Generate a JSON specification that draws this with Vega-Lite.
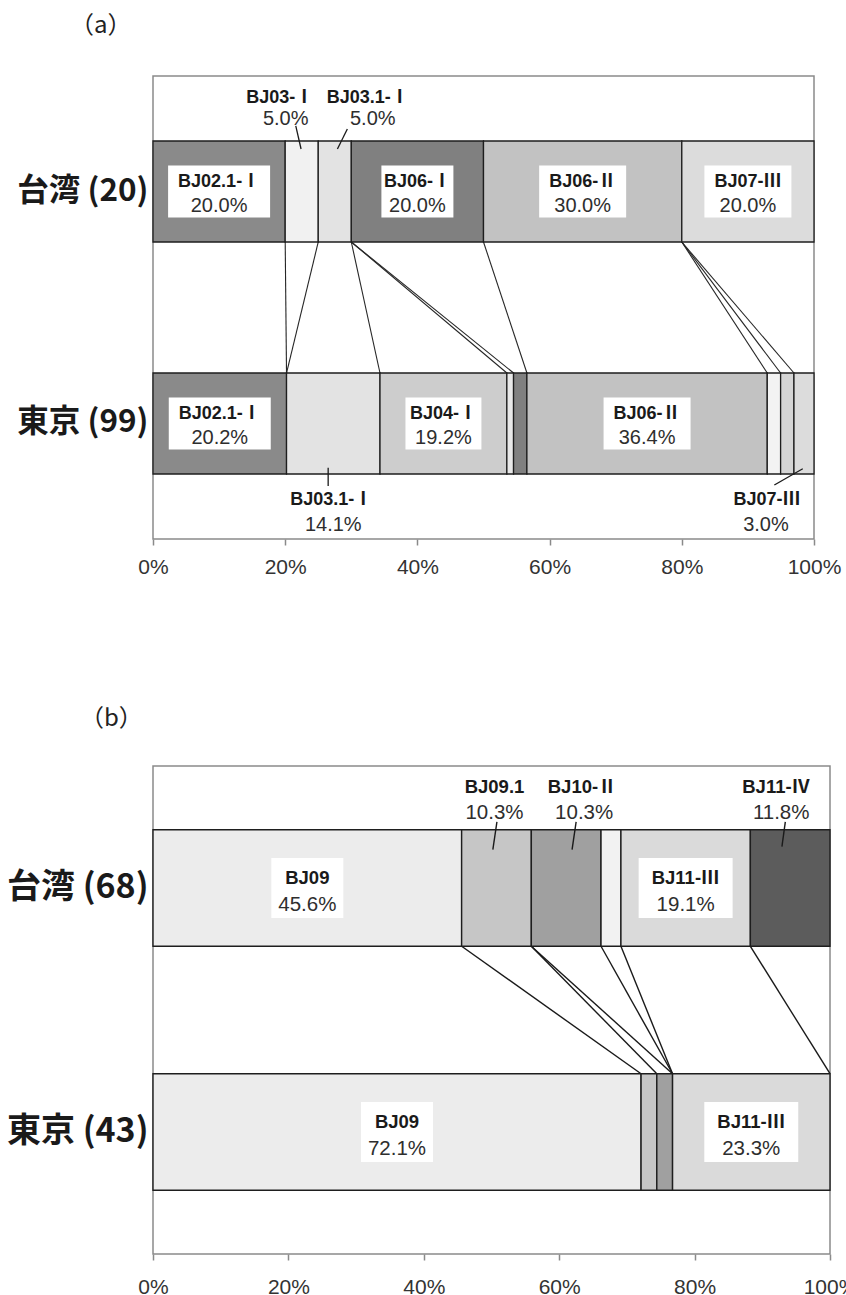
{
  "$schema": "https://vega.github.io/schema/vega-lite/v6.json",
  "padding": {"left": 5, "top": 13, "right": 0, "bottom": 0},
  "autosize": {"type": "pad"},
  "background": "white",
  "config": {
    "font": "Liberation Sans, Noto Sans CJK JP",
    "view": {"stroke": "#8a8a8a", "strokeWidth": 1.5},
    "axis": {"grid": false}
  },
  "datasets": {
    "segA": [
      {"region": "台湾 (20)", "ord": 1, "name": "BJ02.1-Ⅰ", "n": 4, "pct": "20.0%", "lab": "in"},
      {"region": "台湾 (20)", "ord": 2, "name": "BJ03-Ⅰ", "n": 1, "pct": "5.0%", "lab": "up"},
      {"region": "台湾 (20)", "ord": 3, "name": "BJ03.1-Ⅰ", "n": 1, "pct": "5.0%", "lab": "up"},
      {"region": "台湾 (20)", "ord": 4, "name": "BJ06-Ⅰ", "n": 4, "pct": "20.0%", "lab": "in"},
      {"region": "台湾 (20)", "ord": 5, "name": "BJ06-Ⅱ", "n": 6, "pct": "30.0%", "lab": "in"},
      {"region": "台湾 (20)", "ord": 6, "name": "BJ07-Ⅲ", "n": 4, "pct": "20.0%", "lab": "in"},
      {"region": "東京 (99)", "ord": 1, "name": "BJ02.1-Ⅰ", "n": 20, "pct": "20.2%", "lab": "in"},
      {"region": "東京 (99)", "ord": 2, "name": "BJ03.1-Ⅰ", "n": 14, "pct": "14.1%", "lab": "down"},
      {"region": "東京 (99)", "ord": 3, "name": "BJ04-Ⅰ", "n": 19, "pct": "19.2%", "lab": "in"},
      {"region": "東京 (99)", "ord": 4, "name": "他1", "n": 1, "pct": "1.0%", "lab": ""},
      {"region": "東京 (99)", "ord": 5, "name": "BJ06-Ⅰ", "n": 2, "pct": "2.0%", "lab": ""},
      {"region": "東京 (99)", "ord": 6, "name": "BJ06-Ⅱ", "n": 36, "pct": "36.4%", "lab": "in"},
      {"region": "東京 (99)", "ord": 7, "name": "他2", "n": 2, "pct": "2.0%", "lab": ""},
      {"region": "東京 (99)", "ord": 8, "name": "他3", "n": 2, "pct": "2.0%", "lab": ""},
      {"region": "東京 (99)", "ord": 9, "name": "BJ07-Ⅲ", "n": 3, "pct": "3.0%", "lab": "down"}
    ],
    "segB": [
      {"region": "台湾 (68)", "ord": 1, "name": "BJ09", "n": 31, "pct": "45.6%", "lab": "in"},
      {"region": "台湾 (68)", "ord": 2, "name": "BJ09.1", "n": 7, "pct": "10.3%", "lab": "up"},
      {"region": "台湾 (68)", "ord": 3, "name": "BJ10-Ⅱ", "n": 7, "pct": "10.3%", "lab": "up"},
      {"region": "台湾 (68)", "ord": 4, "name": "他4", "n": 2, "pct": "2.9%", "lab": ""},
      {"region": "台湾 (68)", "ord": 5, "name": "BJ11-Ⅲ", "n": 13, "pct": "19.1%", "lab": "in"},
      {"region": "台湾 (68)", "ord": 6, "name": "BJ11-Ⅳ", "n": 8, "pct": "11.8%", "lab": "up"},
      {"region": "東京 (43)", "ord": 1, "name": "BJ09", "n": 31, "pct": "72.1%", "lab": "in"},
      {"region": "東京 (43)", "ord": 2, "name": "BJ09.1", "n": 1, "pct": "2.3%", "lab": ""},
      {"region": "東京 (43)", "ord": 3, "name": "BJ10-Ⅱ", "n": 1, "pct": "2.3%", "lab": ""},
      {"region": "東京 (43)", "ord": 4, "name": "BJ11-Ⅲ", "n": 10, "pct": "23.3%", "lab": "in"}
    ],
    "linkA": [
      {"from": 0.20, "to": 0.2020},
      {"from": 0.25, "to": 0.2020},
      {"from": 0.30, "to": 0.3434},
      {"from": 0.30, "to": 0.5354},
      {"from": 0.30, "to": 0.5455},
      {"from": 0.50, "to": 0.5657},
      {"from": 0.80, "to": 0.9293},
      {"from": 0.80, "to": 0.9495},
      {"from": 0.80, "to": 0.9697}
    ],
    "linkB": [
      {"from": 0.4559, "to": 0.7209},
      {"from": 0.5588, "to": 0.7442},
      {"from": 0.5588, "to": 0.7674},
      {"from": 0.6618, "to": 0.7674},
      {"from": 0.6912, "to": 0.7674},
      {"from": 0.8824, "to": 1.0}
    ]
  },
  "columns": 1,
  "spacing": 128,
  "resolve": {"scale": {"color": "independent", "shape": "independent"}},
  "concat": [
    {
      "title": {"text": "（a）", "anchor": "start", "frame": "group", "dx": -83, "offset": 38, "fontSize": 24, "fontWeight": "normal", "font": "Noto Sans CJK JP", "color": "#222222"},
      "width": 661,
      "height": 463,
      "data": {"name": "segA"},
      "layer": [
        {
          "data": {"name": "linkA"},
          "mark": {"type": "rule", "color": "#262626", "strokeWidth": 1.1},
          "encoding": {
            "x": {"field": "from", "type": "quantitative"},
            "x2": {"field": "to"},
            "y": {"datum": "台湾 (20)", "type": "nominal", "bandPosition": 1},
            "y2": {"datum": "東京 (99)", "bandPosition": 0}
          }
        },
        {
          "mark": {"type": "bar", "stroke": "#1e1e1e", "strokeWidth": 1.3},
          "encoding": {
            "y": {"field": "region", "type": "nominal", "scale": {"domain": ["台湾 (20)", "東京 (99)"], "paddingInner": 0.5647, "paddingOuter": 0.2802},
                  "axis": {"title": null, "ticks": false, "domain": false, "labelFont": "Noto Sans CJK JP", "labelFontSize": 31.5, "labelFontWeight": "bold", "labelColor": "#1a1a1a", "labelPadding": 5}},
            "x": {"field": "n", "type": "quantitative", "stack": "normalize", "scale": {"domain": [0, 1], "nice": false},
                  "axis": {"title": null, "values": [0, 0.2, 0.4, 0.6, 0.8, 1], "format": ".0%", "labelFlush": false, "labelOverlap": false, "labelFontSize": 21, "labelColor": "#333333", "labelFont": "Liberation Sans", "tickColor": "#8a8a8a", "tickSize": 6, "tickWidth": 1.5, "domain": false, "labelPadding": 11}},
            "color": {"field": "name", "type": "nominal", "legend": null,
                      "scale": {"domain": ["BJ02.1-Ⅰ", "BJ03-Ⅰ", "BJ03.1-Ⅰ", "BJ04-Ⅰ", "他1", "BJ06-Ⅰ", "BJ06-Ⅱ", "他2", "他3", "BJ07-Ⅲ"],
                                "range": ["#8a8a8a", "#f1f1f1", "#e3e3e3", "#cdcdcd", "#e8e8e8", "#808080", "#c2c2c2", "#f3f3f3", "#d5d5d5", "#dcdcdc"]}},
            "order": {"field": "ord", "type": "quantitative"}
          }
        },
        {
          "mark": {"type": "point", "filled": true, "fill": "white", "strokeWidth": 0, "size": 14400},
          "encoding": {
            "x": {"field": "n", "type": "quantitative", "stack": "normalize", "bandPosition": 0.5},
            "y": {"field": "region", "type": "nominal"},
            "detail": {"field": "name", "type": "nominal"},
            "order": {"field": "ord", "type": "quantitative"},
            "shape": {"field": "name", "type": "nominal", "legend": null,
                      "scale": {"domain": ["BJ02.1-Ⅰ", "BJ04-Ⅰ", "BJ06-Ⅰ", "BJ06-Ⅱ", "BJ07-Ⅲ", "BJ03-Ⅰ", "BJ03.1-Ⅰ", "他1", "他2", "他3"],
                                "range": ["M-0.85,-0.433L0.85,-0.433L0.85,0.433L-0.85,0.433Z", "M-0.633,-0.433L0.633,-0.433L0.633,0.433L-0.633,0.433Z", "M-0.6,-0.433L0.6,-0.433L0.6,0.433L-0.6,0.433Z", "M-0.725,-0.433L0.725,-0.433L0.725,0.433L-0.725,0.433Z", "M-0.725,-0.433L0.725,-0.433L0.725,0.433L-0.725,0.433Z", "M-0.1,-0.1L0.1,-0.1L0.1,0.1L-0.1,0.1Z", "M-0.1,-0.1L0.1,-0.1L0.1,0.1L-0.1,0.1Z", "M-0.1,-0.1L0.1,-0.1L0.1,0.1L-0.1,0.1Z", "M-0.1,-0.1L0.1,-0.1L0.1,0.1L-0.1,0.1Z", "M-0.1,-0.1L0.1,-0.1L0.1,0.1L-0.1,0.1Z"]}},
            "opacity": {"condition": {"test": "datum.lab === 'in'", "value": 1}, "value": 0}
          }
        },
        {
          "mark": {"type": "text", "fontWeight": "bold", "fontSize": 18, "baseline": "alphabetic", "dy": -4.5, "color": "#1a1a1a"},
          "encoding": {
            "x": {"field": "n", "type": "quantitative", "stack": "normalize", "bandPosition": 0.5},
            "y": {"field": "region", "type": "nominal"},
            "detail": {"field": "name", "type": "nominal"},
            "order": {"field": "ord", "type": "quantitative"},
            "text": {"condition": {"test": "datum.lab === 'in'", "field": "name", "type": "nominal"}, "value": ""}
          }
        },
        {
          "mark": {"type": "text", "fontSize": 20, "baseline": "alphabetic", "dy": 20.5, "color": "#2e2e2e"},
          "encoding": {
            "x": {"field": "n", "type": "quantitative", "stack": "normalize", "bandPosition": 0.5},
            "y": {"field": "region", "type": "nominal"},
            "detail": {"field": "name", "type": "nominal"},
            "order": {"field": "ord", "type": "quantitative"},
            "text": {"condition": {"test": "datum.lab === 'in'", "field": "pct", "type": "nominal"}, "value": ""}
          }
        },
        {
          "mark": {"type": "text", "fontWeight": "bold", "fontSize": 18, "baseline": "alphabetic", "dx": -22, "dy": -89, "color": "#1a1a1a"},
          "encoding": {
            "x": {"field": "n", "type": "quantitative", "stack": "normalize", "bandPosition": 0.5},
            "y": {"field": "region", "type": "nominal"},
            "detail": {"field": "name", "type": "nominal"},
            "order": {"field": "ord", "type": "quantitative"},
            "text": {"condition": {"test": "datum.lab === 'up' && datum.name === 'BJ03-Ⅰ'", "field": "name", "type": "nominal"}, "value": ""}
          }
        },
        {
          "mark": {"type": "text", "fontSize": 20, "baseline": "alphabetic", "dx": -16, "dy": -67, "color": "#2e2e2e"},
          "encoding": {
            "x": {"field": "n", "type": "quantitative", "stack": "normalize", "bandPosition": 0.5},
            "y": {"field": "region", "type": "nominal"},
            "detail": {"field": "name", "type": "nominal"},
            "order": {"field": "ord", "type": "quantitative"},
            "text": {"condition": {"test": "datum.lab === 'up' && datum.name === 'BJ03-Ⅰ'", "field": "pct", "type": "nominal"}, "value": ""}
          }
        },
        {
          "mark": {"type": "text", "fontWeight": "bold", "fontSize": 18, "baseline": "alphabetic", "dx": 33, "dy": -89, "color": "#1a1a1a"},
          "encoding": {
            "x": {"field": "n", "type": "quantitative", "stack": "normalize", "bandPosition": 0.5},
            "y": {"field": "region", "type": "nominal"},
            "detail": {"field": "name", "type": "nominal"},
            "order": {"field": "ord", "type": "quantitative"},
            "text": {"condition": {"test": "datum.lab === 'up' && datum.name === 'BJ03.1-Ⅰ'", "field": "name", "type": "nominal"}, "value": ""}
          }
        },
        {
          "mark": {"type": "text", "fontSize": 20, "baseline": "alphabetic", "dx": 38, "dy": -67, "color": "#2e2e2e"},
          "encoding": {
            "x": {"field": "n", "type": "quantitative", "stack": "normalize", "bandPosition": 0.5},
            "y": {"field": "region", "type": "nominal"},
            "detail": {"field": "name", "type": "nominal"},
            "order": {"field": "ord", "type": "quantitative"},
            "text": {"condition": {"test": "datum.lab === 'up' && datum.name === 'BJ03.1-Ⅰ'", "field": "pct", "type": "nominal"}, "value": ""}
          }
        },
        {
          "mark": {"type": "text", "fontWeight": "bold", "fontSize": 18, "baseline": "alphabetic", "dx": -2, "dy": 81.5, "color": "#1a1a1a"},
          "encoding": {
            "x": {"field": "n", "type": "quantitative", "stack": "normalize", "bandPosition": 0.5},
            "y": {"field": "region", "type": "nominal"},
            "detail": {"field": "name", "type": "nominal"},
            "order": {"field": "ord", "type": "quantitative"},
            "text": {"condition": {"test": "datum.lab === 'down' && datum.name === 'BJ03.1-Ⅰ'", "field": "name", "type": "nominal"}, "value": ""}
          }
        },
        {
          "mark": {"type": "text", "fontSize": 20, "baseline": "alphabetic", "dx": 0, "dy": 107.5, "color": "#2e2e2e"},
          "encoding": {
            "x": {"field": "n", "type": "quantitative", "stack": "normalize", "bandPosition": 0.5},
            "y": {"field": "region", "type": "nominal"},
            "detail": {"field": "name", "type": "nominal"},
            "order": {"field": "ord", "type": "quantitative"},
            "text": {"condition": {"test": "datum.lab === 'down' && datum.name === 'BJ03.1-Ⅰ'", "field": "pct", "type": "nominal"}, "value": ""}
          }
        },
        {
          "mark": {"type": "text", "fontWeight": "bold", "fontSize": 18, "baseline": "alphabetic", "dx": -37, "dy": 81.5, "color": "#1a1a1a"},
          "encoding": {
            "x": {"field": "n", "type": "quantitative", "stack": "normalize", "bandPosition": 0.5},
            "y": {"field": "region", "type": "nominal"},
            "detail": {"field": "name", "type": "nominal"},
            "order": {"field": "ord", "type": "quantitative"},
            "text": {"condition": {"test": "datum.lab === 'down' && datum.name === 'BJ07-Ⅲ'", "field": "name", "type": "nominal"}, "value": ""}
          }
        },
        {
          "mark": {"type": "text", "fontSize": 20, "baseline": "alphabetic", "dx": -38, "dy": 107.5, "color": "#2e2e2e"},
          "encoding": {
            "x": {"field": "n", "type": "quantitative", "stack": "normalize", "bandPosition": 0.5},
            "y": {"field": "region", "type": "nominal"},
            "detail": {"field": "name", "type": "nominal"},
            "order": {"field": "ord", "type": "quantitative"},
            "text": {"condition": {"test": "datum.lab === 'down' && datum.name === 'BJ07-Ⅲ'", "field": "pct", "type": "nominal"}, "value": ""}
          }
        },
        {
          "data": {"values": [{"leader": "BJ03-Ⅰ"}]},
          "mark": {"type": "rule", "color": "#1a1a1a", "strokeWidth": 1.3},
          "encoding": {
            "x": {"datum": 0.216, "type": "quantitative"}, "x2": {"datum": 0.224},
            "y": {"datum": "台湾 (20)", "type": "nominal", "bandPosition": -0.149}, "y2": {"datum": "台湾 (20)", "bandPosition": 0.079}
          }
        },
        {
          "data": {"values": [{"leader": "BJ03.1-Ⅰ"}]},
          "mark": {"type": "rule", "color": "#1a1a1a", "strokeWidth": 1.3},
          "encoding": {
            "x": {"datum": 0.294, "type": "quantitative"}, "x2": {"datum": 0.279},
            "y": {"datum": "台湾 (20)", "type": "nominal", "bandPosition": -0.119}, "y2": {"datum": "台湾 (20)", "bandPosition": 0.079}
          }
        },
        {
          "data": {"values": [{"leader": "BJ03.1-Ⅰ"}]},
          "mark": {"type": "rule", "color": "#1a1a1a", "strokeWidth": 1.3},
          "encoding": {
            "x": {"datum": 0.265, "type": "quantitative"}, "x2": {"datum": 0.265},
            "y": {"datum": "東京 (99)", "type": "nominal", "bandPosition": 0.938}, "y2": {"datum": "東京 (99)", "bandPosition": 1.119}
          }
        },
        {
          "data": {"values": [{"leader": "BJ07-Ⅲ"}]},
          "mark": {"type": "rule", "color": "#1a1a1a", "strokeWidth": 1.3},
          "encoding": {
            "x": {"datum": 0.940, "type": "quantitative"}, "x2": {"datum": 0.983},
            "y": {"datum": "東京 (99)", "type": "nominal", "bandPosition": 1.109}, "y2": {"datum": "東京 (99)", "bandPosition": 0.948}
          }
        }
      ]
    },
    {
      "title": {"text": "（b）", "anchor": "start", "frame": "group", "dx": -73, "offset": 35, "fontSize": 24, "fontWeight": "normal", "font": "Noto Sans CJK JP", "color": "#222222"},
      "width": 677,
      "height": 488,
      "data": {"name": "segB"},
      "layer": [
        {
          "data": {"name": "linkB"},
          "mark": {"type": "rule", "color": "#1a1a1a", "strokeWidth": 1.4},
          "encoding": {
            "x": {"field": "from", "type": "quantitative"},
            "x2": {"field": "to"},
            "y": {"datum": "台湾 (68)", "type": "nominal", "bandPosition": 1},
            "y2": {"datum": "東京 (43)", "bandPosition": 0}
          }
        },
        {
          "mark": {"type": "bar", "stroke": "#1e1e1e", "strokeWidth": 1.4},
          "encoding": {
            "y": {"field": "region", "type": "nominal", "scale": {"domain": ["台湾 (68)", "東京 (43)"], "paddingInner": 0.5224, "paddingOuter": 0.2612},
                  "axis": {"title": null, "ticks": false, "domain": false, "labelFont": "Noto Sans CJK JP", "labelFontSize": 34, "labelFontWeight": "bold", "labelColor": "#1a1a1a", "labelPadding": 5}},
            "x": {"field": "n", "type": "quantitative", "stack": "normalize", "scale": {"domain": [0, 1], "nice": false},
                  "axis": {"title": null, "values": [0, 0.2, 0.4, 0.6, 0.8, 1], "format": ".0%", "labelFlush": false, "labelOverlap": false, "labelFontSize": 21, "labelColor": "#333333", "labelFont": "Liberation Sans", "tickColor": "#8a8a8a", "tickSize": 6, "tickWidth": 1.5, "domain": false, "labelPadding": 16}},
            "color": {"field": "name", "type": "nominal", "legend": null,
                      "scale": {"domain": ["BJ09", "BJ09.1", "BJ10-Ⅱ", "他4", "BJ11-Ⅲ", "BJ11-Ⅳ"],
                                "range": ["#ececec", "#c6c6c6", "#a0a0a0", "#f2f2f2", "#dadada", "#5c5c5c"]}},
            "order": {"field": "ord", "type": "quantitative"}
          }
        },
        {
          "mark": {"type": "point", "filled": true, "fill": "white", "strokeWidth": 0, "size": 14400},
          "encoding": {
            "x": {"field": "n", "type": "quantitative", "stack": "normalize", "bandPosition": 0.5},
            "y": {"field": "region", "type": "nominal"},
            "detail": {"field": "name", "type": "nominal"},
            "order": {"field": "ord", "type": "quantitative"},
            "shape": {"field": "name", "type": "nominal", "legend": null,
                      "scale": {"domain": ["BJ09", "BJ11-Ⅲ", "BJ09.1", "BJ10-Ⅱ", "他4", "BJ11-Ⅳ"],
                                "range": ["M-0.6,-0.5L0.6,-0.5L0.6,0.5L-0.6,0.5Z", "M-0.783,-0.5L0.783,-0.5L0.783,0.5L-0.783,0.5Z", "M-0.1,-0.1L0.1,-0.1L0.1,0.1L-0.1,0.1Z", "M-0.1,-0.1L0.1,-0.1L0.1,0.1L-0.1,0.1Z", "M-0.1,-0.1L0.1,-0.1L0.1,0.1L-0.1,0.1Z", "M-0.1,-0.1L0.1,-0.1L0.1,0.1L-0.1,0.1Z"]}},
            "opacity": {"condition": {"test": "datum.lab === 'in'", "value": 1}, "value": 0}
          }
        },
        {
          "mark": {"type": "text", "fontWeight": "bold", "fontSize": 18.5, "baseline": "alphabetic", "dy": -4, "color": "#1a1a1a"},
          "encoding": {
            "x": {"field": "n", "type": "quantitative", "stack": "normalize", "bandPosition": 0.5},
            "y": {"field": "region", "type": "nominal"},
            "detail": {"field": "name", "type": "nominal"},
            "order": {"field": "ord", "type": "quantitative"},
            "text": {"condition": {"test": "datum.lab === 'in'", "field": "name", "type": "nominal"}, "value": ""}
          }
        },
        {
          "mark": {"type": "text", "fontSize": 20.5, "baseline": "alphabetic", "dy": 23, "color": "#2e2e2e"},
          "encoding": {
            "x": {"field": "n", "type": "quantitative", "stack": "normalize", "bandPosition": 0.5},
            "y": {"field": "region", "type": "nominal"},
            "detail": {"field": "name", "type": "nominal"},
            "order": {"field": "ord", "type": "quantitative"},
            "text": {"condition": {"test": "datum.lab === 'in'", "field": "pct", "type": "nominal"}, "value": ""}
          }
        },
        {
          "mark": {"type": "text", "fontWeight": "bold", "fontSize": 18.5, "baseline": "alphabetic", "dx": -2, "dy": -95, "color": "#1a1a1a"},
          "encoding": {
            "x": {"field": "n", "type": "quantitative", "stack": "normalize", "bandPosition": 0.5},
            "y": {"field": "region", "type": "nominal"},
            "detail": {"field": "name", "type": "nominal"},
            "order": {"field": "ord", "type": "quantitative"},
            "text": {"condition": {"test": "datum.lab === 'up' && datum.name === 'BJ09.1'", "field": "name", "type": "nominal"}, "value": ""}
          }
        },
        {
          "mark": {"type": "text", "fontSize": 20.5, "baseline": "alphabetic", "dx": -2, "dy": -69, "color": "#2e2e2e"},
          "encoding": {
            "x": {"field": "n", "type": "quantitative", "stack": "normalize", "bandPosition": 0.5},
            "y": {"field": "region", "type": "nominal"},
            "detail": {"field": "name", "type": "nominal"},
            "order": {"field": "ord", "type": "quantitative"},
            "text": {"condition": {"test": "datum.lab === 'up' && datum.name === 'BJ09.1'", "field": "pct", "type": "nominal"}, "value": ""}
          }
        },
        {
          "mark": {"type": "text", "fontWeight": "bold", "fontSize": 18.5, "baseline": "alphabetic", "dx": 16, "dy": -95, "color": "#1a1a1a"},
          "encoding": {
            "x": {"field": "n", "type": "quantitative", "stack": "normalize", "bandPosition": 0.5},
            "y": {"field": "region", "type": "nominal"},
            "detail": {"field": "name", "type": "nominal"},
            "order": {"field": "ord", "type": "quantitative"},
            "text": {"condition": {"test": "datum.lab === 'up' && datum.name === 'BJ10-Ⅱ'", "field": "name", "type": "nominal"}, "value": ""}
          }
        },
        {
          "mark": {"type": "text", "fontSize": 20.5, "baseline": "alphabetic", "dx": 18, "dy": -69, "color": "#2e2e2e"},
          "encoding": {
            "x": {"field": "n", "type": "quantitative", "stack": "normalize", "bandPosition": 0.5},
            "y": {"field": "region", "type": "nominal"},
            "detail": {"field": "name", "type": "nominal"},
            "order": {"field": "ord", "type": "quantitative"},
            "text": {"condition": {"test": "datum.lab === 'up' && datum.name === 'BJ10-Ⅱ'", "field": "pct", "type": "nominal"}, "value": ""}
          }
        },
        {
          "mark": {"type": "text", "fontWeight": "bold", "fontSize": 18.5, "baseline": "alphabetic", "dx": -14, "dy": -95, "color": "#1a1a1a"},
          "encoding": {
            "x": {"field": "n", "type": "quantitative", "stack": "normalize", "bandPosition": 0.5},
            "y": {"field": "region", "type": "nominal"},
            "detail": {"field": "name", "type": "nominal"},
            "order": {"field": "ord", "type": "quantitative"},
            "text": {"condition": {"test": "datum.lab === 'up' && datum.name === 'BJ11-Ⅳ'", "field": "name", "type": "nominal"}, "value": ""}
          }
        },
        {
          "mark": {"type": "text", "fontSize": 20.5, "baseline": "alphabetic", "dx": -9, "dy": -69, "color": "#2e2e2e"},
          "encoding": {
            "x": {"field": "n", "type": "quantitative", "stack": "normalize", "bandPosition": 0.5},
            "y": {"field": "region", "type": "nominal"},
            "detail": {"field": "name", "type": "nominal"},
            "order": {"field": "ord", "type": "quantitative"},
            "text": {"condition": {"test": "datum.lab === 'up' && datum.name === 'BJ11-Ⅳ'", "field": "pct", "type": "nominal"}, "value": ""}
          }
        },
        {
          "data": {"values": [{"leader": "BJ09.1"}]},
          "mark": {"type": "rule", "color": "#1a1a1a", "strokeWidth": 1.4},
          "encoding": {
            "x": {"datum": 0.508, "type": "quantitative"}, "x2": {"datum": 0.502},
            "y": {"datum": "台湾 (68)", "type": "nominal", "bandPosition": -0.068}, "y2": {"datum": "台湾 (68)", "bandPosition": 0.171}
          }
        },
        {
          "data": {"values": [{"leader": "BJ10-Ⅱ"}]},
          "mark": {"type": "rule", "color": "#1a1a1a", "strokeWidth": 1.4},
          "encoding": {
            "x": {"datum": 0.625, "type": "quantitative"}, "x2": {"datum": 0.619},
            "y": {"datum": "台湾 (68)", "type": "nominal", "bandPosition": -0.068}, "y2": {"datum": "台湾 (68)", "bandPosition": 0.171}
          }
        },
        {
          "data": {"values": [{"leader": "BJ11-Ⅳ"}]},
          "mark": {"type": "rule", "color": "#1a1a1a", "strokeWidth": 1.4},
          "encoding": {
            "x": {"datum": 0.934, "type": "quantitative"}, "x2": {"datum": 0.929},
            "y": {"datum": "台湾 (68)", "type": "nominal", "bandPosition": -0.068}, "y2": {"datum": "台湾 (68)", "bandPosition": 0.145}
          }
        }
      ]
    }
  ]
}
